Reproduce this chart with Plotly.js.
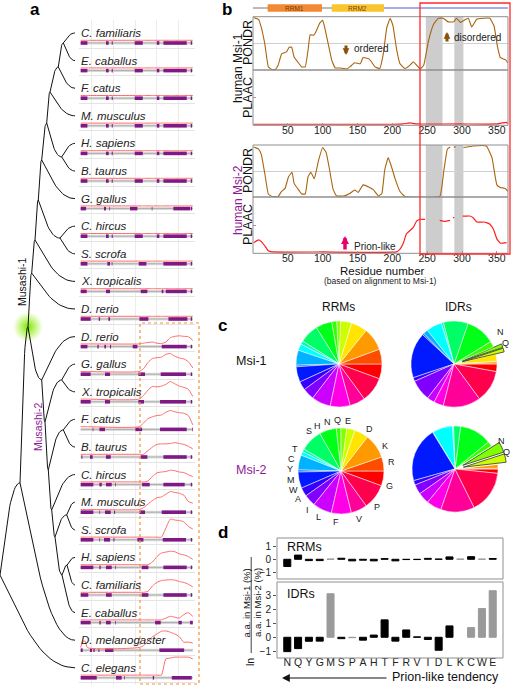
<!DOCTYPE html>
<html><head><meta charset="utf-8">
<script src="https://cdn.plot.ly/plotly-3.0.1.min.js"></script>
<style>html,body{margin:0;padding:0;background:#fff}#chart{width:512px;height:685px}</style>
</head><body><div id="chart"></div>
<script>
// ================= DATA =================
// ---- Panel a: species rows (top to bottom) ----
const species = ["C. familiaris","E. caballus","F. catus","M. musculus","H. sapiens","B. taurus","G. gallus","C. hircus","S. scrofa","X. tropicalis","D. rerio",
  "D. rerio","G. gallus","X. tropicalis","F. catus","B. taurus","C. hircus","M. musculus","S. scrofa","H. sapiens","C. familiaris","E. caballus",
  "D. melanogaster","C. elegans"];
// purple segments along the alignment (0-100)
const segs = [
 [[0,6],[22.6,25],[27.7,28.6],[48.2,55.4],[67.9,70.2],[73.8,94.6],[98.2,99.4]],
 [[0,6],[22.6,25],[27.7,28.6],[48.2,55.4],[67.9,70.2],[73.8,94.6],[98.2,99.4]],
 [[0,6],[22.6,25],[27.7,28.6],[48.2,55.4],[67.9,70.2],[73.8,94.6],[98.2,99.4]],
 [[0,6],[22.6,25],[27.7,28.6],[48.2,55.4],[67.9,70.2],[73.8,94.6],[98.2,99.4]],
 [[0,6],[22.6,25],[27.7,28.6],[48.2,55.4],[67.9,70.2],[73.8,94.6],[98.2,99.4]],
 [[0,6],[22.6,25],[27.7,28.6],[48.2,55.4],[67.9,70.2],[73.8,94.6],[98.2,99.4]],
 [[0,4.8],[20.8,22.6],[25.6,26.2],[44,50.6],[63.4,64],[82.7,97.6],[98.2,99.4]],
 [[0,6],[22.6,25],[27.7,28.6],[48.2,55.4],[67.9,70.2],[73.8,94.6],[98.2,99.4]],
 [[0,6],[23.8,26.2],[27.7,28.3],[51.8,58.6],[73.8,94.6],[98.2,99.4]],
 [[0,5.4],[22.6,26.2],[53.6,59.5],[72.3,73.8],[75.9,94.6],[98.2,99.4]],
 [[0,8.9],[16.1,17.3],[24.7,26.2],[52.4,60.4],[78.3,95.2],[98.2,99.4]],
 [[0,6],[14.9,16.1],[21.1,22.6],[26.2,27.1],[46.4,50.6],[72.3,94.6],[98.2,99.4]],
 [[0,8.9],[21.7,26.2],[51.5,57.4],[71.4,94],[98.2,99.4]],
 [[0,8.9],[21.7,26.2],[51.5,56.5],[70.8,94],[98.2,99.4]],
 [[10.7,11.3],[16.7,21.7],[48.8,54.8],[70.8,94.6],[99.4,100]],
 [[0.6,1.5],[8.3,10.7],[22.6,26.8],[53.6,59.5],[73.8,94.6],[98.2,99.4]],
 [[0,11.3],[16.7,18.8],[22.6,27.7],[30.7,31.3],[54.8,61.6],[73.8,92.8],[98.2,99.4]],
 [[0,11.3],[16.7,17.3],[21.7,26.8],[29.8,30.7],[52.4,57.4],[72.3,94],[98.2,99.4]],
 [[0,11.3],[16.7,17.3],[20.8,26.2],[29.2,30.1],[50.6,56],[73.2,94],[98.2,99.4]],
 [[0,11.3],[16.7,17.9],[22.6,27.7],[30.7,31.3],[54.5,60.4],[73.8,94.6],[98.2,99.4]],
 [[0,6.8],[22.6,27.7],[54.5,60.4],[73.8,94.6],[98.2,99.4]],
 [[0,8.9],[16.7,17.9],[22.6,26.8],[30.7,31.3],[66.4,71.4],[87.2,90.2],[97.6,100]],
 [[0,1.8],[8.3,10.1],[11.3,12.5],[15.8,16.7],[21.7,29.2],[70.2,92.3]],
 [[0,14.3],[31.5,36.6],[38.7,39.3],[64.3,65.5],[81.3,99.1]]
];
// disorder profile positions along alignment and values per row
const curvePos = [0,2,4,6,52,56,60,64,68,72,76,80,84,88,92,96,100];
const disorder = [
 [0,0,0,0,0,0,0,0,0,0,0,0,0,0,0,0,0],
 [0,0,0,0,0,0,0,0,0,0,0,0,0,0,0,0,0],
 [0,0,0,0,0,0,0,0,0,0,0,0,0,0,0,0,0],
 [0,0,0,0,0,0,0,0,0,0,0,0,0,0,0,0,0],
 [0,0,0,0,0,0,0,0,0,0,0,0,0,0,0,0,0],
 [0,0,0,0,0,0,0,0,0,0,0,0,0,0,0,0,0],
 [0,0,0,0,0,0,0,0,0,0,0,0,0,0,0,0,0],
 [0,0,0,0,0,0,0,0,0,0,0,0,0,0,0,0,0],
 [0,0,0,0,0,0,0,0,0,0,0,0,0,0,0,0,0],
 [0,0,0,0,0,0,0,0,0,0,0,0,0,0,0,0,0],
 [0,0,0,0,0,0,0,0,0,0,0,0,0,0,0,0,0],
 [0,0,0,0,0,0.04,0.08,0.1,0.04,0.02,0.1,0.35,0.42,0.45,0.42,0.4,0.2],
 [0,0,0,0,0,0.15,0.5,0.72,0.77,0.8,0.95,1.0,0.85,0.75,0.7,0.55,0.2],
 [0,0,0,0,0,0.2,0.5,0.7,0.68,0.72,0.82,0.98,0.85,0.72,0.66,0.55,0.15],
 [0,0,0,0,0,0.2,0.45,0.55,0.62,0.65,0.8,0.9,0.83,0.78,0.75,0.62,0.1],
 [0,0,0,0,0,0,0.2,0.4,0.55,0.58,0.58,0.6,0.65,0.6,0.55,0.45,0.3],
 [0,0,0,0,0,0,0.05,0.3,0.5,0.55,0.58,0.65,0.62,0.55,0.52,0.4,0.3],
 [0,0,0,0,0,0.1,0.3,0.5,0.65,0.7,0.85,1.0,0.95,0.9,0.8,0.45,0.35],
 [0,0,0,0,0,0,0,0,0,0,0.5,1.0,0.95,0.92,0.85,0.6,0.45],
 [0,0,0,0,0,0,0,0.15,0.45,0.65,0.7,0.75,0.72,0.6,0.55,0.45,0.3],
 [0,0,0,0,0,0,0.05,0.35,0.55,0.65,0.68,0.7,0.68,0.6,0.55,0.45,0.3],
 [0,0,0,0,0,0,0,0,0,0,0.1,0.2,0.15,0.1,0.3,0.4,0.2],
 [0,0.35,0.35,0,0,0.1,0.35,0.6,0.75,0.9,0.92,0.85,0.75,0.6,0.3,0.3,0.25],
 [0,0,0,0,0,0,0,0,0,0,0.9,0.95,1.0,1.0,1.0,1.0,0.9]
];
// tree: internal nodes (depth, row position) and parents
const nodeName  = ['root','nDm','dup','m1','m1X','m1CSp','m1CS','m1G','m1HBp','m1HB','m1M','m1F','m1CE','m2','m2A','m2GX','m2B','m2FB','m2C','m2D','m2MS','m2E','m2HC'];
const nodeDepth = [0,20,28,31.7,35,38.3,60,41.7,46.7,61.7,50,58.3,63.3,41.7,45,61.7,48.3,63.3,51.7,55,66.7,62,67];
const nodeRow   = [19.64,16.30,10.65,8.70,7.50,6.05,7.43,4.60,3.26,4.49,2.14,1.23,0.36,12.57,14.09,12.57,15.83,14.38,17.28,18.26,17.46,19.64,19.28];
const nodeParent= [null,'root','nDm','dup','m1','m1X','m1CSp','m1CSp','m1G','m1HBp','m1HBp','m1M','m1F','dup','m2','m2A','m2A','m2B','m2B','m2C','m2D','m2D','m2E'];
const leafParent= ['m1CE','m1CE','m1F','m1M','m1HB','m1HB','m1G','m1CS','m1CS','m1X','m1','m2','m2GX','m2GX','m2FB','m2FB','m2C','m2MS','m2MS','m2HC','m2HC','m2E','nDm','root'];
const leafDepth = 75;
const duplicationNode = 'dup';

// ---- Panel b ----
const domainNames = ['RRM1','RRM2'];
const domainStart = [21, 113];
const domainEnd   = [99, 188];
const idrStart = 188, proteinEnd = 366;
const deletedBands = [[248,272],[289,302]];
const pondr1Res = [1,8,12,17,22,27,32,36,41,44,48,52,55.5,59,64,70,75,79,82,87,90,96,100,103,108,113,118,125,134,139,146,154,158,166,170,175,182,187,192,197,201,206,211,218,225,230,235,240,245,252,259,266,273,280,288,292,298,303,309,314,321,331,340,346,351,355,362,366];
const pondr1Val = [1.0,0.97,0.81,0.49,0.05,0,0,0.08,0.30,0.32,0.34,0.43,0.43,0.24,0.15,0.05,0.05,0.37,0.67,0.66,0.72,0.9,0.95,0.81,0.49,0.18,0.03,0.03,0.01,0.05,0.13,0.11,0.23,0.21,0.15,0.05,0.02,0.30,0.81,0.99,0.84,0.40,0.11,0.02,0.08,0.15,0.08,0.01,0.08,0.56,0.87,0.99,0.99,0.92,0.92,0.99,0.91,0.95,0.99,0.82,0.97,0.99,0.99,0.84,0.43,0.23,0.19,0.13];
const plaac1Res = [1,50,100,150,200,215,225,232,240,300,350,358,363,366];
const plaac1Val = [0.005,0.005,0.005,0.005,0.005,0.01,0.03,0.015,0.01,0.01,0.01,0.03,0.04,0.02];
const pondr2Res = [1,8,12,17,22,27,36,41,46,51,56,59,65,70,75,79,83,88,94,100,105,110,115,120,130,139,146,151,158,166,173,180,185,189,194,199,204,211,218,268,274,279,283,285,288,291,293,302,316,335,343,350,355,362,366];
const pondr2Val = [0.98,0.94,0.83,0.45,0.05,0,0,0.10,0.16,0.39,0.48,0.26,0.14,0.05,0.05,0.39,0.48,0.35,0.71,0.97,0.87,0.52,0.14,0.01,0.01,0.06,0.13,0.08,0.23,0.19,0.13,0.01,0.06,0.52,0.77,0.58,0.35,0.10,0,0,0.52,0.94,0.98,null,0.98,0.98,null,0.97,1.0,1.0,0.77,0.23,0.18,0.16,0.10];
const plaac2Res = [1,8,12,17,22,27,100,206,211,216,220,225,230,235,240,245,247,249,268,275,283,285,287,289,291,301,306,311,316,321,331,335,340,345,350,355,364];
const plaac2Val = [0.18,0.23,0.20,0.12,0.03,0.01,0.01,0.01,0.06,0.18,0.34,0.40,0.46,0.58,0.61,0.61,0.61,null,0.59,0.57,0.59,null,0.64,0.64,null,0.67,0.67,0.67,0.64,0.56,0.56,0.55,0.52,0.43,0.25,0.17,0.18];
const resTicks = [50,100,150,200,250,300,350];

// ---- Panel c: amino-acid composition (%) ----
const aaPie   = ['R','K','D','E','Q','N','H','S','T','C','Y','M','W','A','I','L','F','V','P','G'];
const rrmMsi1 = [5.6,5.6,8.6,6.1,4.2,1.4,1.9,6.1,7.2,1.3,2.5,5.6,0.6,5.8,3.3,4.4,7.2,7.5,5.8,9.4];
const idrMsi1 = [2.8,0.4,0.6,2.6,1.4,1.4,2.2,10.8,9.2,0.8,5.8,1.7,0.6,16.9,1.4,7.8,2.8,3.6,13.9,11.9];
const rrmMsi2 = [5.6,5.3,9.2,5.3,3.1,2.2,1.7,6.4,8.3,1.1,1.4,5.6,0.8,6.1,3.3,4.4,7.2,7.5,6.1,9.4];
const idrMsi2 = [1.6,0.3,1.4,0.1,3.1,3.9,1.9,11.9,2.6,0.4,7.5,0.1,0.1,20.3,1.7,3.6,4.2,5.6,12.5,15.8];
const highlightedAA = ['N','Q'];

// ---- Panel d: ln(Msi-1 % / Msi-2 %) ----
const aaBars   = ['N','Q','Y','G','M','S','P','A','H','T','F','R','V','I','D','L','K','C','W','E'];
const rrmRatio = [-0.55,0.32,-0.1,-0.1,0.02,0.08,-0.12,-0.07,-0.12,0.05,-0.12,-0.02,-0.02,0.07,0.02,0.18,0.02,0.2,0.02,0.06];
const rrmGrey  = [0,0,0,0,1,0,0,0,0,0,0,0,0,0,0,0,1,0,1,0];
const idrRatio = [-1.04,-0.82,-0.29,-0.28,3.15,-0.1,-0.03,-0.21,0.16,1.26,-0.28,0.53,0.03,-0.16,-0.94,0.82,null,0.7,2.08,3.37];
const idrGrey  = [0,0,0,0,1,0,1,0,0,0,0,0,0,0,0,0,0,1,1,1];

// ================= LAYOUT HELPERS =================
const W = 512, H = 685;
const px = v => v / W;
const py = v => 1 - v / H;
const FONT = 'Liberation Sans, Arial, Helvetica, sans-serif';
const PURPLE = '#8e1a96';
const traces = [];
const shapes = [];
const annotations = [];
function ann(text, x, y, o) {
  return Object.assign({text, x: px(x), y: py(y), xref: 'paper', yref: 'paper', showarrow: false,
    xanchor: 'center', yanchor: 'middle', font: {size: 12, color: '#111', family: FONT}}, o || {});
}
function arrow(xh, yh, xt, yt, color, w, size) {
  return {text: '', x: px(xh), y: py(yh), xref: 'paper', yref: 'paper', showarrow: true,
    ax: xt - xh, ay: yt - yh, axref: 'pixel', ayref: 'pixel', arrowhead: 2, arrowsize: size,
    arrowwidth: w, arrowcolor: color, standoff: 0, startstandoff: 0};
}
function rect(x0, y0, x1, y1, color, w, dash) {
  return {type: 'rect', xref: 'paper', yref: 'paper', x0: px(x0), x1: px(x1), y0: py(y1), y1: py(y0),
    line: {color, width: w, dash: dash || 'solid'}, fillcolor: 'rgba(0,0,0,0)'};
}

// ================= PANEL A =================
const TRACK_OFF = 0.362, FLAT_OFF = 0.265, CURVE_SCALE = 0.652;
const idx = {}; nodeName.forEach((n, i) => idx[n] = i);
const tx = [], ty = [];
function edge(xp, yp, xc, yc) {
  const dx = xc - xp, dy = yc - yp;
  const p1 = [xp + 0.25 * dx, yp + 0.4 * dy], p2 = [xp + 0.5 * dx, yc];
  for (let k = 0; k <= 24; k++) {
    const t = k / 24, u = 1 - t;
    tx.push(u*u*u*xp + 3*u*u*t*p1[0] + 3*u*t*t*p2[0] + t*t*t*xc);
    ty.push(u*u*u*yp + 3*u*u*t*p1[1] + 3*u*t*t*p2[1] + t*t*t*yc);
  }
  tx.push(null); ty.push(null);
}
nodeName.forEach((n, i) => {
  const p = nodeParent[i]; if (!p) return;
  const j = idx[p];
  edge(nodeDepth[j], nodeRow[j], nodeDepth[i], nodeRow[i]);
});
leafParent.forEach((p, r) => {
  const j = idx[p];
  edge(nodeDepth[j], nodeRow[j], leafDepth, r);
});
traces.push({type: 'scatter', mode: 'markers', xaxis: 'x', yaxis: 'y',
  x: [nodeDepth[idx[duplicationNode]]], y: [nodeRow[idx[duplicationNode]]],
  marker: {size: 30, color: 'rgba(150,240,0,0)', line: {width: 0},
    gradient: {type: 'radial', color: 'rgba(120,230,0,1)'}}, hoverinfo: 'skip'});
traces.push({type: 'scatter', mode: 'lines', xaxis: 'x', yaxis: 'y', x: tx, y: ty,
  line: {color: '#111', width: 1}, hoverinfo: 'skip'});

const gx = [], gy = [], sx = [], sy = [], cx = [], cy = [];
species.forEach((s, r) => {
  gx.push(0, 100, null); gy.push(r + TRACK_OFF, r + TRACK_OFF, null);
  segs[r].forEach(sg => { sx.push(sg[0], sg[1], null); sy.push(r + TRACK_OFF, r + TRACK_OFF, null); });
  curvePos.forEach((p, k) => { cx.push(p); cy.push(r + FLAT_OFF - CURVE_SCALE * disorder[r][k]); });
  cx.push(null); cy.push(null);
});
traces.push({type: 'scatter', mode: 'lines', xaxis: 'x2', yaxis: 'y2', x: gx, y: gy,
  line: {color: '#dcdcdc', width: 3}, hoverinfo: 'skip'});
traces.push({type: 'scatter', mode: 'lines', xaxis: 'x2', yaxis: 'y2', x: gx, y: gy,
  line: {color: '#9a9a9a', width: 0.7}, hoverinfo: 'skip'});
traces.push({type: 'scatter', mode: 'lines', xaxis: 'x2', yaxis: 'y2', x: sx, y: sy,
  line: {color: '#7e1985', width: 3.6}, hoverinfo: 'skip'});
traces.push({type: 'scatter', mode: 'lines', xaxis: 'x2', yaxis: 'y2', x: cx, y: cy,
  line: {color: '#ff6a6a', width: 1, shape: 'spline', smoothing: 0.6}, hoverinfo: 'skip'});
species.forEach((s, r) => annotations.push({text: '<i>' + s + '</i>', x: -1.4, y: r, xref: 'x2', yref: 'y2',
  showarrow: false, xanchor: 'left', yanchor: 'middle', font: {size: 11.5, color: '#222', family: FONT}}));

shapes.push(rect(140, 323, 199, 684, '#f7923a', 1.2, 'dot'));
annotations.push(ann('<b>a</b>', 35, 10, {font: {size: 17, family: FONT, color: '#000'}}));
annotations.push(ann('Musashi-1', 22, 282, {textangle: -90, font: {size: 10.5, family: FONT, color: '#111'}}));
annotations.push(ann('Musashi-2', 38, 427, {textangle: -90, font: {size: 10.5, family: FONT, color: PURPLE}}));

// ================= PANEL B =================
const BX0 = 253, BX1 = 508;
traces.push({type: 'scatter', mode: 'lines', xaxis: 'x3', yaxis: 'y3', x: [0, idrStart], y: [0.5, 0.5],
  line: {color: '#777', width: 1}, hoverinfo: 'skip'});
traces.push({type: 'scatter', mode: 'lines', xaxis: 'x3', yaxis: 'y3', x: [idrStart, proteinEnd], y: [0.5, 0.5],
  line: {color: '#4a5fd6', width: 1}, hoverinfo: 'skip'});
const domColors = ['#f28a35', '#f9c62f'];
domainNames.forEach((d, i) => {
  shapes.push({type: 'rect', xref: 'x3', yref: 'y3', x0: domainStart[i], x1: domainEnd[i], y0: 0.12, y1: 0.88,
    fillcolor: domColors[i], line: {width: 0}, layer: 'above'});
  annotations.push({text: d, x: (domainStart[i] + domainEnd[i]) / 2, y: 0.5, xref: 'x3', yref: 'y3', showarrow: false,
    font: {size: 6.5, color: '#7a3a05', family: FONT}});
});
const pondrStyle = {color: '#a8640f', width: 1.1, shape: 'spline', smoothing: 0.3};
const plaacStyle = {color: '#ff1f1f', width: 1.2, shape: 'spline', smoothing: 0.3};
traces.push({type: 'scatter', mode: 'lines', xaxis: 'x4', yaxis: 'y4', x: pondr1Res, y: pondr1Val, line: pondrStyle, hoverinfo: 'skip'});
traces.push({type: 'scatter', mode: 'lines', xaxis: 'x4', yaxis: 'y5', x: plaac1Res, y: plaac1Val, line: plaacStyle, hoverinfo: 'skip'});
traces.push({type: 'scatter', mode: 'lines', xaxis: 'x5', yaxis: 'y6', x: pondr2Res, y: pondr2Val, line: pondrStyle, hoverinfo: 'skip'});
traces.push({type: 'scatter', mode: 'lines', xaxis: 'x5', yaxis: 'y7', x: plaac2Res, y: plaac2Val, line: plaacStyle, hoverinfo: 'skip'});
const pPondr1 = [16.7, 70], pPlaac1 = [70, 125.3], pPondr2 = [145, 197], pPlaac2 = [197, 253.3];
deletedBands.forEach(b => {
  shapes.push({type: 'rect', xref: 'x4', yref: 'paper', x0: b[0], x1: b[1], y0: py(pPlaac1[1]), y1: py(pPondr1[0]),
    fillcolor: '#cdcdcd', line: {width: 0}, layer: 'between'});
  shapes.push({type: 'rect', xref: 'x5', yref: 'paper', x0: b[0], x1: b[1], y0: py(pPlaac2[1]), y1: py(pPondr2[0]),
    fillcolor: '#cdcdcd', line: {width: 0}, layer: 'between'});
});
[pPondr1, pPlaac1, pPondr2, pPlaac2].forEach(p => shapes.push(rect(BX0, p[0], BX1, p[1], '#8f8f8f', 1)));
shapes.push(rect(420, 3, 510, 254, '#ff2a2a', 1.3));

annotations.push(ann('<b>b</b>', 227, 10, {font: {size: 17, family: FONT, color: '#000'}}));
annotations.push(ann('human Msi-1', 238, 68, {textangle: -90, font: {size: 12, family: FONT, color: '#111'}}));
annotations.push(ann('PONDR', 248, 43, {textangle: -90, font: {size: 12.5, family: FONT, color: '#111'}}));
annotations.push(ann('PLAAC', 248, 98, {textangle: -90, font: {size: 12.5, family: FONT, color: '#111'}}));
annotations.push(ann('human Msi-2', 238, 200, {textangle: -90, font: {size: 12, family: FONT, color: PURPLE}}));
annotations.push(ann('PONDR', 248, 171, {textangle: -90, font: {size: 12.5, family: FONT, color: '#111'}}));
annotations.push(ann('PLAAC', 248, 225, {textangle: -90, font: {size: 12.5, family: FONT, color: '#111'}}));
annotations.push(arrow(346, 55, 346, 44, '#8a5208', 3, 0.45));
annotations.push(ann('ordered', 352, 48, {xanchor: 'left', font: {size: 10, family: FONT, color: '#222'}}));
annotations.push(arrow(447, 32, 447, 43, '#8a5208', 3, 0.45));
annotations.push(ann('disordered', 452, 38, {xanchor: 'left', font: {size: 10, family: FONT, color: '#222'}}));
annotations.push(arrow(345, 236, 345, 251, '#e8006c', 3.5, 0.45));
annotations.push(ann('Prion-like', 352, 246, {xanchor: 'left', font: {size: 10, family: FONT, color: '#222'}}));
annotations.push(ann('Residue number', 382, 270.5, {font: {size: 11.5, family: FONT, color: '#111'}}));
annotations.push(ann('(based on alignment to Msi-1)', 380, 281, {font: {size: 8.5, family: FONT, color: '#222'}}));

// ================= PANEL C =================
const aaColor = aaPie.map((a, i) => 'hsl(' + (i * 18) + ',100%,50%)');
function pie(vals, cxp, cyp, r, pull) {
  const half = r * (1 + pull);
  const isHi = aaPie.map(a => highlightedAA.includes(a));
  return {type: 'pie', values: vals, labels: aaPie, sort: false, direction: 'counterclockwise', rotation: 90,
    domain: {x: [px(cxp - half), px(cxp + half)], y: [py(cyp + half), py(cyp - half)]},
    marker: {colors: aaColor, line: {color: isHi.map(h => h && pull ? '#333' : '#fff'), width: isHi.map(h => h && pull ? 0.8 : 0.5)}},
    pull: isHi.map(h => h && pull ? pull : 0), showlegend: false, hoverinfo: 'skip', textinfo: 'none'};
}
function pieLabels(vals, cxp, cyp, rLab, onlyHi) {
  const tot = vals.reduce((a, b) => a + b, 0);
  let cum = 0; const items = [];
  vals.forEach((v, i) => { const a = (cum + v / 2) / tot * 360; cum += v;
    if (!onlyHi || highlightedAA.includes(aaPie[i])) items.push({t: aaPie[i], a}); });
  const minSep = onlyHi ? 12 : 11.5;
  for (let it = 0; it < 80; it++) {
    for (let k = 0; k < items.length; k++) {
      if (items.length < 2 || (k === items.length - 1 && onlyHi)) continue;
      const a = items[k], b = items[(k + 1) % items.length];
      let d = b.a - a.a; if (d < 0) d += 360;
      if (d < minSep) { const s = (minSep - d) / 2; a.a -= s; b.a += s; }
    }
  }
  items.forEach(o => {
    const rad = o.a * Math.PI / 180;
    annotations.push(ann(o.t, cxp + rLab * Math.cos(rad), cyp - rLab * Math.sin(rad),
      {font: {size: 9, family: FONT, color: '#222'}}));
  });
}
traces.push(pie(rrmMsi1, 339, 364, 43, 0));
traces.push(pie(idrMsi1, 454, 364, 43, 0.2));
traces.push(pie(rrmMsi2, 341, 471, 43, 0));
traces.push(pie(idrMsi2, 455, 469, 43, 0.2));
pieLabels(rrmMsi2, 341, 471, 51, false);
pieLabels(idrMsi1, 454, 364, 56, true);
pieLabels(idrMsi2, 454, 469, 55, true);
annotations.push(ann('<b>c</b>', 222, 325, {font: {size: 17, family: FONT, color: '#000'}}));
annotations.push(ann('RRMs', 338, 307, {font: {size: 12, family: FONT, color: '#111'}}));
annotations.push(ann('IDRs', 458, 307, {font: {size: 12, family: FONT, color: '#111'}}));
annotations.push(ann('Msi-1', 251, 361, {font: {size: 12.5, family: FONT, color: '#111'}}));
annotations.push(ann('Msi-2', 251, 470, {font: {size: 12.5, family: FONT, color: PURPLE}}));

// ================= PANEL D =================
const barCol = g => g.map(v => v ? '#9a9a9a' : '#000');
traces.push({type: 'bar', xaxis: 'x6', yaxis: 'y8', x: aaBars, y: rrmRatio, width: 0.65,
  marker: {color: barCol(rrmGrey), line: {color: barCol(rrmGrey), width: 1}}, hoverinfo: 'skip'});
traces.push({type: 'bar', xaxis: 'x6', yaxis: 'y9', x: aaBars, y: idrRatio, width: 0.65,
  marker: {color: barCol(idrGrey), line: {color: barCol(idrGrey), width: 1}}, hoverinfo: 'skip'});
shapes.push(rect(277, 538, 503, 579, '#8f8f8f', 1));
shapes.push(rect(277, 582, 503, 658, '#8f8f8f', 1));
annotations.push(ann('<b>d</b>', 223, 532, {font: {size: 17, family: FONT, color: '#000'}}));
annotations.push(ann('RRMs', 285, 547, {xanchor: 'left', font: {size: 12.5, family: FONT, color: '#111'}}));
annotations.push(ann('IDRs', 285, 594, {xanchor: 'left', font: {size: 12.5, family: FONT, color: '#111'}}));
annotations.push(ann('a.a. in Msi-1 (%)', 245.5, 603, {textangle: -90, font: {size: 9.5, family: FONT, color: '#111'}}));
annotations.push(ann('a.a. in Msi-2 (%)', 257, 603, {textangle: -90, font: {size: 9.5, family: FONT, color: '#111'}}));
shapes.push({type: 'line', xref: 'paper', yref: 'paper', x0: px(251.2), x1: px(251.2), y0: py(653), y1: py(557), line: {color: '#111', width: 0.8}});
annotations.push(ann('ln', 250, 662, {textangle: -90, font: {size: 10.5, family: FONT, color: '#111'}}));
annotations.push(arrow(282, 678, 388, 678, '#111', 1.2, 1.3));
annotations.push(ann('Prion-like tendency', 390, 677, {xanchor: 'left', font: {size: 12.5, family: FONT, color: '#111'}}));

// ================= AXES =================
const hidden = {visible: false, fixedrange: true};
const rowTop = -33 / 27.6, rowBot = (685 - 33) / 27.6;
const xTickB = {range: [0, 366], tickvals: resTicks, ticks: 'inside', ticklen: 2, ticklabelstandoff: -3,
  tickcolor: '#999', showgrid: false, zeroline: false, showline: false, tickfont: {size: 10.5, color: '#222'}};
const layout = {
  width: W, height: H, margin: {l: 0, r: 0, t: 0, b: 0}, paper_bgcolor: '#fff', plot_bgcolor: 'rgba(0,0,0,0)',
  font: {family: FONT, color: '#111'}, showlegend: false, bargap: 0,
  xaxis: Object.assign({domain: [0, px(80)], range: [0, 80], anchor: 'y'}, hidden),
  yaxis: Object.assign({domain: [0, 1], range: [rowBot, rowTop], anchor: 'x'}, hidden),
  xaxis2: {domain: [px(79), px(195)], range: [-1.5, 102], anchor: 'y2', tickvals: [9.8, 29.2, 48.5, 67.9, 87.2],
    showticklabels: false, ticks: '', showgrid: true, gridcolor: '#ececec', gridwidth: 1, zeroline: false, showline: false},
  yaxis2: {domain: [0, py(20)], range: [rowBot, -13 / 27.6], anchor: 'x2', tickvals: species.map((s, r) => r + 0.55),
    showticklabels: false, ticks: '', showgrid: true, gridcolor: '#e4e4e4', zeroline: false, showline: false},
  xaxis3: Object.assign({domain: [px(BX0), px(BX1)], range: [0, 366], anchor: 'y3'}, hidden),
  yaxis3: Object.assign({domain: [py(13), py(3)], range: [0, 1], anchor: 'x3'}, hidden),
  xaxis4: Object.assign({domain: [px(BX0), px(BX1)], anchor: 'y5'}, xTickB),
  xaxis5: Object.assign({domain: [px(BX0), px(BX1)], anchor: 'y7'}, xTickB),
  yaxis4: {domain: [py(pPondr1[1]), py(pPondr1[0])], range: [-0.01, 1.02], anchor: 'x4', tickvals: [0.5],
    showticklabels: false, ticks: '', showgrid: true, gridcolor: '#cfcfcf', zeroline: false},
  yaxis5: {domain: [py(pPlaac1[1]), py(pPlaac1[0])], range: [-0.015, 1.02], anchor: 'x4', tickvals: [0.5],
    showticklabels: false, ticks: 'inside', ticklen: 3, tickcolor: '#999', showgrid: false, zeroline: false},
  yaxis6: {domain: [py(pPondr2[1]), py(pPondr2[0])], range: [-0.01, 1.02], anchor: 'x5', tickvals: [0.5],
    showticklabels: false, ticks: '', showgrid: true, gridcolor: '#cfcfcf', zeroline: false},
  yaxis7: {domain: [py(pPlaac2[1]), py(pPlaac2[0])], range: [-0.015, 1.02], anchor: 'x5', tickvals: [0.5],
    showticklabels: false, ticks: 'inside', ticklen: 3, tickcolor: '#999', showgrid: false, zeroline: false},
  xaxis6: {domain: [px(277), px(503)], type: 'category', categoryorder: 'array', categoryarray: aaBars,
    tickmode: 'array', tickvals: aaBars, ticktext: aaBars, tickangle: 0,
    range: [-0.95, 19.95], anchor: 'y9', ticks: '', ticklabelstandoff: -4, showgrid: false,
    zeroline: false, showline: false, tickfont: {size: 10.5, color: '#222'}},
  yaxis8: {domain: [py(579), py(538)], range: [-1.5, 1.62], anchor: 'x6', tickvals: [-1, 0, 1], ticks: 'outside',
    ticklen: 3, tickcolor: '#555', showgrid: false, zeroline: false, tickfont: {size: 10, color: '#222'}},
  yaxis9: {domain: [py(658), py(582)], range: [-1.5, 4.0], anchor: 'x6', tickvals: [-1, 0, 1, 2, 3], ticks: 'outside',
    ticklen: 3, tickcolor: '#555', showgrid: false, zeroline: false, tickfont: {size: 10, color: '#222'}},
  shapes, annotations
};
Plotly.newPlot('chart', traces, layout, {staticPlot: true, displayModeBar: false});
</script></body></html>
